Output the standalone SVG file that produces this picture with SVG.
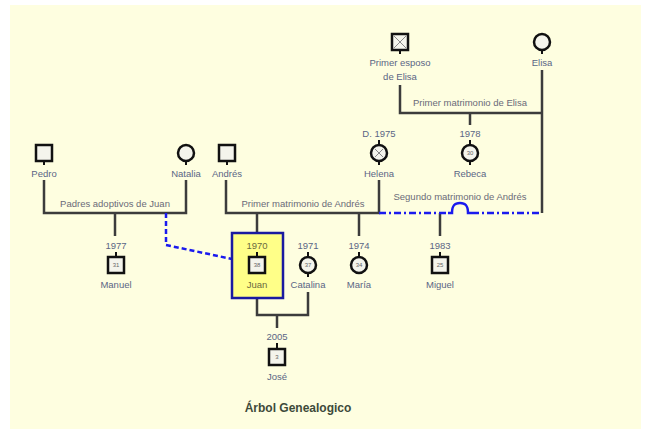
<svg xmlns="http://www.w3.org/2000/svg" width="651" height="433" viewBox="0 0 651 433">
<style>
.bg{fill:#FEFEE0}
.ln{stroke:#3c3c3c;stroke-width:2.5;fill:none}
.sym{fill:#f4f4ec;stroke:#111;stroke-width:2.5}
.pin{stroke:#111;stroke-width:2}
.lbl{font-family:"Liberation Sans",Arial,sans-serif;font-size:9.5px;fill:#5a6585;text-anchor:middle}
.mlbl{font-family:"Liberation Sans",Arial,sans-serif;font-size:9.5px;fill:#6a6a78;text-anchor:middle}
.num{font-family:"Liberation Sans",Arial,sans-serif;font-size:6px;fill:#666;text-anchor:middle}
.blue{stroke:#1a1aee;stroke-width:2.5;fill:none}
.title{font-family:"Liberation Sans",Arial,sans-serif;font-size:12px;font-weight:bold;fill:#3d4a3a;text-anchor:middle}
</style>
<rect x="0" y="0" width="651" height="433" fill="#ffffff"/>
<rect class="bg" x="10" y="5" width="631" height="424"/>
<g id="connectors">
<path class="ln" d="M400,85 V113 H542"/>
<path class="ln" d="M542,70 V213"/>
<path class="ln" d="M470,113 V125"/>
<path class="ln" d="M44,180 V213 H186 V180"/>
<path class="ln" d="M115,213 V236"/>
<path class="ln" d="M226,180 V213 H379 V180"/>
<path class="ln" d="M257,213 V233"/>
<path class="ln" d="M359,213 V236"/>
<path class="ln" d="M440,213 V236"/>
<path class="ln" d="M257,298 V315 H308 V292"/>
<path class="ln" d="M277,315 V328"/>
<path class="blue" stroke-dasharray="7,3,2,3" d="M379,213 H448"/>
<path class="blue" d="M448,213 H452 C452,205 455,203 460,203 C465,203 468,205 468,213 H472"/>
<path class="blue" stroke-dasharray="7,3,2,3" d="M472,213 H542"/>
<path class="blue" stroke-dasharray="5,3" d="M166,213 V245 L232,259"/>
</g>
<g id="juan-box"><rect x="232" y="233" width="51" height="65" fill="#FFFF88" stroke="#1a1aa0" stroke-width="2.5"/></g>
<g id="primer-esposo">
<rect class="sym" x="392" y="34" width="16" height="16"/>
<path stroke="#888" stroke-width="1" d="M394,36 L406,48 M406,36 L394,48"/>
<path class="pin" d="M400,50 V54"/>
<text class="lbl" x="400" y="66">Primer esposo</text>
<text class="lbl" x="400" y="80">de Elisa</text>
</g>
<g id="elisa">
<circle class="sym" cx="542" cy="42" r="8"/>
<path class="pin" d="M542,50 V54"/>
<text class="lbl" x="542" y="66">Elisa</text>
</g>
<text class="mlbl" x="470" y="106">Primer matrimonio de Elisa</text>
<g id="rebeca">
<text class="lbl" x="470" y="137">1978</text>
<path class="pin" d="M470,140 V144"/>
<circle class="sym" cx="470" cy="153" r="8"/>
<text class="num" x="470" y="155">30</text>
<path class="pin" d="M470,161 V165"/>
<text class="lbl" x="470" y="177">Rebeca</text>
</g>
<g id="pedro">
<rect class="sym" x="36" y="145" width="16" height="16"/>
<path class="pin" d="M44,161 V165"/>
<text class="lbl" x="44" y="177">Pedro</text>
</g>
<g id="natalia">
<circle class="sym" cx="186" cy="153" r="8"/>
<path class="pin" d="M186,161 V165"/>
<text class="lbl" x="186" y="177">Natalia</text>
</g>
<text class="mlbl" x="115" y="207">Padres adoptivos de Juan</text>
<g id="andres">
<rect class="sym" x="219" y="145" width="16" height="16"/>
<path class="pin" d="M227,161 V165"/>
<text class="lbl" x="227" y="177">Andrés</text>
</g>
<g id="helena">
<text class="lbl" x="379" y="137">D. 1975</text>
<path class="pin" d="M379,140 V144"/>
<circle class="sym" cx="379" cy="153" r="8"/>
<path stroke="#888" stroke-width="1" d="M375,149 L383,157 M383,149 L375,157"/>
<path class="pin" d="M379,161 V165"/>
<text class="lbl" x="379" y="177">Helena</text>
</g>
<text class="mlbl" x="303" y="207">Primer matrimonio de Andrés</text>
<text class="mlbl" x="460" y="200">Segundo matrimonio de Andrés</text>
<g id="manuel">
<text class="lbl" x="116" y="249">1977</text>
<path class="pin" d="M116,252 V256"/>
<rect class="sym" x="108" y="257" width="16" height="16"/>
<text class="num" x="116" y="267">31</text>
<text class="lbl" x="116" y="288">Manuel</text>
</g>
<g id="juan">
<text class="lbl" x="257" y="249" style="fill:#6a6a40">1970</text>
<path class="pin" d="M257,252 V256"/>
<rect class="sym" x="249" y="257" width="16" height="16"/>
<text class="num" x="257" y="267">38</text>
<text class="lbl" x="257" y="288" style="fill:#6a6a40">Juan</text>
</g>
<g id="catalina">
<text class="lbl" x="308" y="249">1971</text>
<path class="pin" d="M308,252 V256"/>
<circle class="sym" cx="308" cy="265" r="8"/>
<text class="num" x="308" y="267">37</text>
<path class="pin" d="M308,273 V277"/>
<text class="lbl" x="308" y="288">Catalina</text>
</g>
<g id="maria">
<text class="lbl" x="359" y="249">1974</text>
<path class="pin" d="M359,252 V256"/>
<circle class="sym" cx="359" cy="265" r="8"/>
<text class="num" x="359" y="267">34</text>
<text class="lbl" x="359" y="288">María</text>
</g>
<g id="miguel">
<text class="lbl" x="440" y="249">1983</text>
<path class="pin" d="M440,252 V256"/>
<rect class="sym" x="432" y="257" width="16" height="16"/>
<text class="num" x="440" y="267">25</text>
<text class="lbl" x="440" y="288">Miguel</text>
</g>
<g id="jose">
<text class="lbl" x="277" y="340">2005</text>
<path class="pin" d="M277,343 V348"/>
<rect class="sym" x="269" y="349" width="16" height="16"/>
<text class="num" x="277" y="359">3</text>
<text class="lbl" x="277" y="380">José</text>
</g>
<text class="title" x="298" y="412">Árbol Genealogico</text>
</svg>
